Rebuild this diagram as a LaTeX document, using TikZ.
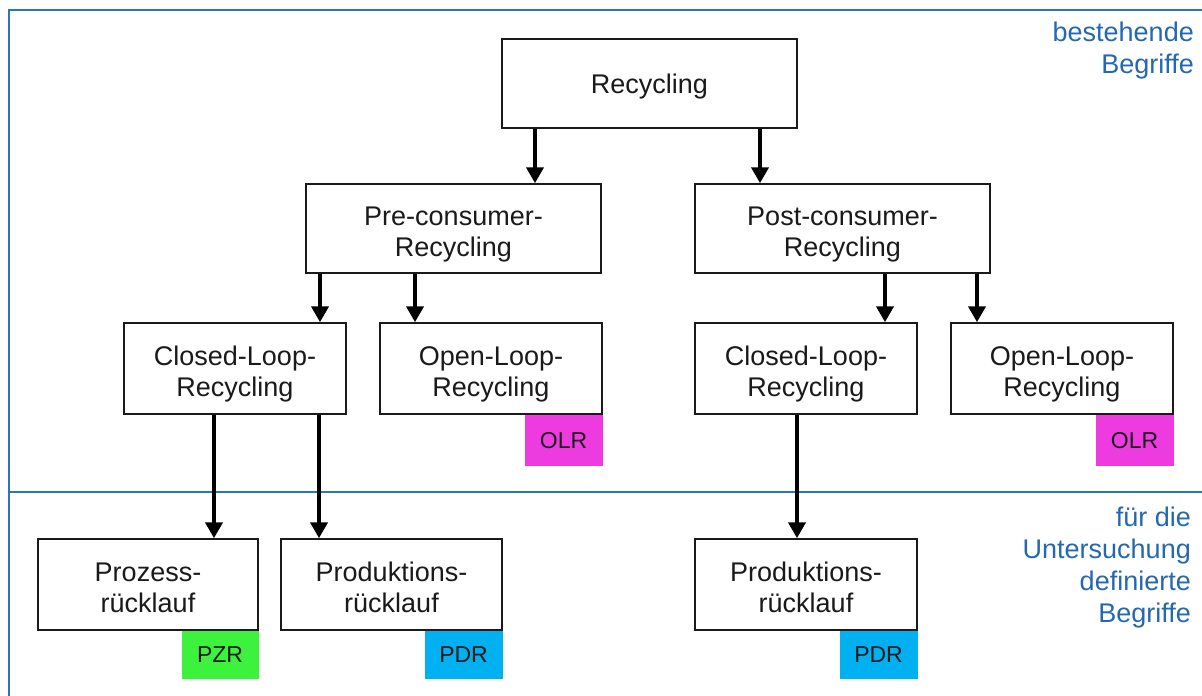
\documentclass[tikz,border=0pt]{standalone}
\usepackage{fontspec}
\setmainfont{Liberation Sans}
\usetikzlibrary{arrows.meta}
\definecolor{frameblue}{HTML}{2E75B6}
\definecolor{labelblue}{HTML}{2468B0}
\definecolor{olrpink}{HTML}{EE3BE0}
\definecolor{pzrgreen}{HTML}{3CF23C}
\definecolor{pdrblue}{HTML}{00B0F0}
\definecolor{ink}{HTML}{1A1A1A}
\tikzset{
  term/.style={draw=ink, line width=1.5pt, fill=white, inner sep=0pt, align=center,
    text=ink, font=\fontsize{27}{31}\selectfont, minimum height=89pt,
    text height=55pt, text depth=0pt},
  wide/.style={term, minimum width=295pt},
  mid/.style={term, minimum width=222pt, minimum height=91pt},
  tag/.style={inner sep=0pt, minimum width=78pt, minimum height=50pt, text=ink,
    font=\fontsize{23}{26}\selectfont, anchor=north east},
  arr/.style={line width=4pt, draw=black, -{Triangle[width=17pt,length=16pt]}},
  region/.style={draw=frameblue},
  side/.style={text=labelblue, align=right, anchor=north east, inner sep=0pt,
    font=\fontsize{27}{32}\selectfont}
}
\begin{document}
\begin{tikzpicture}[x=1pt, y=-1pt]
  \useasboundingbox (0,0) rectangle (1202,696);
  \fill[white] (0,0) rectangle (1202,696);

  % frame and dividing line
  \draw[region, line width=2.5pt] (9,696) -- (9,10) -- (1202,10);
  \draw[region, line width=1.5pt] (9,492) -- (1202,492);

  % side captions
  \node[side] (capA) at (1194,22) {bestehende\\Begriffe};
  \node[side] (capB) at (1191,507) {für die\\Untersuchung\\definierte\\Begriffe};

  % hierarchy
  \node[wide, text height=19pt] (rec) at (649.5,83.5) {Recycling};
  \node[wide] (pre)  at (453.5,228.5) {Pre-consumer-\\Recycling};
  \node[wide] (post) at (842.5,228.5) {Post-consumer-\\Recycling};

  \node[mid] (cll) at (235,368.5)  {Closed-Loop-\\Recycling};
  \node[mid] (oll) at (491,368.5)  {Open-Loop-\\Recycling};
  \node[mid] (clr) at (806,368.5)  {Closed-Loop-\\Recycling};
  \node[mid] (olr) at (1062,368.5) {Open-Loop-\\Recycling};

  \node[mid, minimum width=220pt] (pzr) at (148,584.5)  {Prozess-\\rücklauf};
  \node[mid, minimum width=221pt] (pdl) at (391.5,584.5) {Produktions-\\rücklauf};
  \node[mid] (pdr) at (806,584.5) {Produktions-\\rücklauf};

  % abbreviation tags
  \node[tag, fill=olrpink, minimum height=51pt] (tOLl) at (oll.south east) {OLR};
  \node[tag, fill=olrpink, minimum height=51pt] (tOLr) at (olr.south east) {OLR};
  \node[tag, fill=pzrgreen, minimum width=77pt, minimum height=48pt] (tPZ) at (pzr.south east) {PZR};
  \node[tag, fill=pdrblue, minimum height=48pt] (tPDl) at (pdl.south east) {PDR};
  \node[tag, fill=pdrblue, minimum height=48pt] (tPDr) at (pdr.south east) {PDR};

  % connectors
  \draw[arr] ([xshift=-114.5pt]rec.south) -- ([xshift=-114.5pt]rec.south |- pre.north);
  \draw[arr] ([xshift=110.5pt]rec.south)  -- ([xshift=110.5pt]rec.south |- post.north);
  \draw[arr] ([xshift=-133.5pt]pre.south) -- ([xshift=-133.5pt]pre.south |- cll.north);
  \draw[arr] ([xshift=-38.5pt]pre.south)  -- ([xshift=-38.5pt]pre.south |- oll.north);
  \draw[arr] ([xshift=42.5pt]post.south)  -- ([xshift=42.5pt]post.south |- clr.north);
  \draw[arr] ([xshift=134.5pt]post.south) -- ([xshift=134.5pt]post.south |- olr.north);
  \draw[arr] ([xshift=-21pt]cll.south)    -- ([xshift=-21pt]cll.south |- pzr.north);
  \draw[arr] ([xshift=84pt]cll.south)     -- ([xshift=84pt]cll.south |- pdl.north);
  \draw[arr] ([xshift=-9pt]clr.south)     -- ([xshift=-9pt]clr.south |- pdr.north);
\end{tikzpicture}
\end{document}
